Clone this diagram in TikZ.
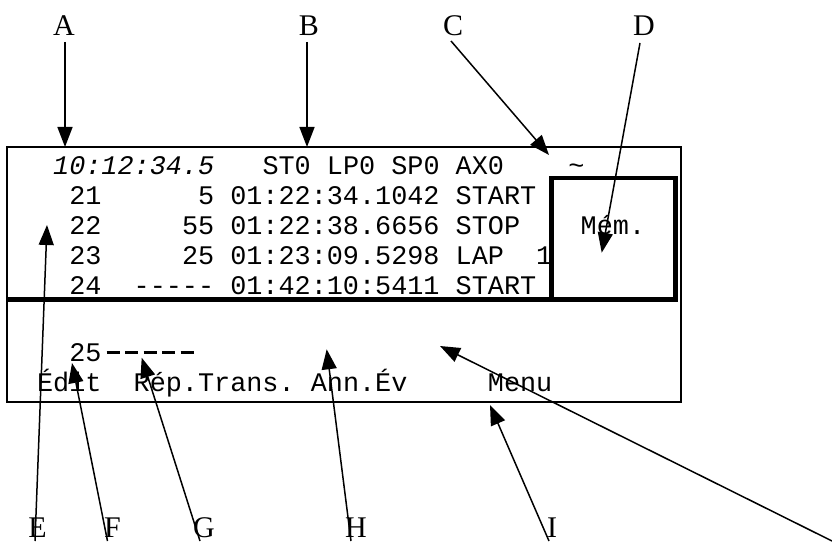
\documentclass[tikz,border=0pt]{standalone}
\usepackage{fontspec}
\setmainfont{Liberation Serif}
\newfontfamily\scrfont{Liberation Mono}
\usetikzlibrary{arrows.meta}
\newcommand\colpos[1]{53+16.1*#1}
\tikzset{
  scr/.style={font=\scrfont\fontsize{26.83}{30}\selectfont, inner sep=0pt, anchor=base west},
  lab/.style={font=\fontsize{30}{36}\selectfont, inner sep=0pt, anchor=base},
  callout/.style={line width=1.5pt, -{Triangle[length=20pt,width=15pt]}},
  frame/.style={line width=2pt},
  heavy/.style={line width=5pt},
  bolddash/.style={line width=3.3pt, dash pattern=on 13pt off 5.5pt},
}
\begin{document}
\begin{tikzpicture}[x=1pt,y=1pt]
\useasboundingbox (0,0) rectangle (832,541);
\fill[white] (0,0) rectangle (832,541);

% header row
\node[scr] (hclock) at ({\colpos{0}},366) {\itshape 10:12:34.5};
\node[scr] (hst) at ({\colpos{13}},366) {ST0};
\node[scr] (hlp) at ({\colpos{17}},366) {LP0};
\node[scr] (hsp) at ({\colpos{21}},366) {SP0};
\node[scr] (hax) at ({\colpos{25}},366) {AX0};
\node[scr] (htil) at ({\colpos{32}},366) {\textasciitilde};

% row 21
\node[scr] (n21) at ({\colpos{1}},336) {21};
\node[scr] (b21) at ({\colpos{9}},336) {5};
\node[scr] (t21) at ({\colpos{11}},336) {01:22:34.1042};
\node[scr] (e21) at ({\colpos{25}},336) {START};
% row 22
\node[scr] (n22) at ({\colpos{1}},306) {22};
\node[scr] (b22) at ({\colpos{8}},306) {55};
\node[scr] (t22) at ({\colpos{11}},306) {01:22:38.6656};
\node[scr] (e22) at ({\colpos{25}},306) {STOP};
% row 23
\node[scr] (n23) at ({\colpos{1}},276) {23};
\node[scr] (b23) at ({\colpos{8}},276) {25};
\node[scr] (t23) at ({\colpos{11}},276) {01:23:09.5298};
\node[scr] (e23) at ({\colpos{25}},276) {LAP};
\node[scr] (l23) at ({\colpos{30}},276) {1};
% row 24
\node[scr] (n24) at ({\colpos{1}},246) {24};
\node[scr] (b24) at ({\colpos{5}},246) {-{}-{}-{}-{}-};
\node[scr] (t24) at ({\colpos{11}},246) {01:42:10:5411};
\node[scr] (e24) at ({\colpos{25}},246) {START};

\node[scr] (mem) at (580.5,306) {Mém.};

% input line
\node[scr] (n25) at ({\colpos{1}},179.5) {25};
\coordinate (d0) at (106.7,188.3);
\coordinate (d1) at (196.7,188.3);
\draw[bolddash] (d0) -- (d1);

% soft keys
\node[scr] (kedit) at ({\colpos{-1}},149.5) {Édit};
\node[scr] (krep) at ({\colpos{5}},149.5) {Rép.Trans.};
\node[scr] (kann) at ({\colpos{16}},149.5) {Ann.Év};
\node[scr] (kmenu) at ({\colpos{27}},149.5) {Menu};

% frames
\draw[frame] (7.3,139) rectangle (680.7,393.5);
\draw[heavy] (7.3,241.3) -- (677,241.3);
\draw[line width=4.5pt] (551.3,239) -- (551.3,363) -- (675.3,363) -- (675.3,239);

% labels
\node[lab] (A) at (64,505.5) {A};
\node[lab] (B) at (309,505.5) {B};
\node[lab] (C) at (453,505.5) {C};
\node[lab] (D) at (644,505.5) {D};
\node[lab] (E) at (37.5,4) {E};
\node[lab] (F) at (112.5,4) {F};
\node[lab] (G) at (204,4) {G};
\node[lab] (H) at (356,4) {H};
\node[lab] (I) at (552,4) {I};
\node[lab] (J) at (838,4) {J};

% callouts
\coordinate (a0) at (65,499);   \coordinate (a1) at (65,394);
\coordinate (b0) at (307,499);  \coordinate (b1) at (307,394);
\coordinate (c0) at (451,500);  \coordinate (c1) at (549,386);
\coordinate (dd0) at (640,498); \coordinate (dd1) at (601.7,288.3);
\coordinate (e0) at (35,0);     \coordinate (e1) at (47,316);
\coordinate (f0) at (107.5,0);  \coordinate (f1) at (72,178);
\coordinate (g0) at (200,0);    \coordinate (g1) at (141.7,183.3);
\coordinate (h0) at (351,0);    \coordinate (h1) at (326.7,191.7);
\coordinate (i0) at (549,0);    \coordinate (i1) at (490,136);
\coordinate (j0) at (832,0);    \coordinate (j1) at (440,195);
\foreach \s/\t in {a0/a1,b0/b1,c0/c1,dd0/dd1,e0/e1,f0/f1,g0/g1,h0/h1,i0/i1,j0/j1}
  \draw[callout] (\s) -- (\t);
\end{tikzpicture}
\end{document}
